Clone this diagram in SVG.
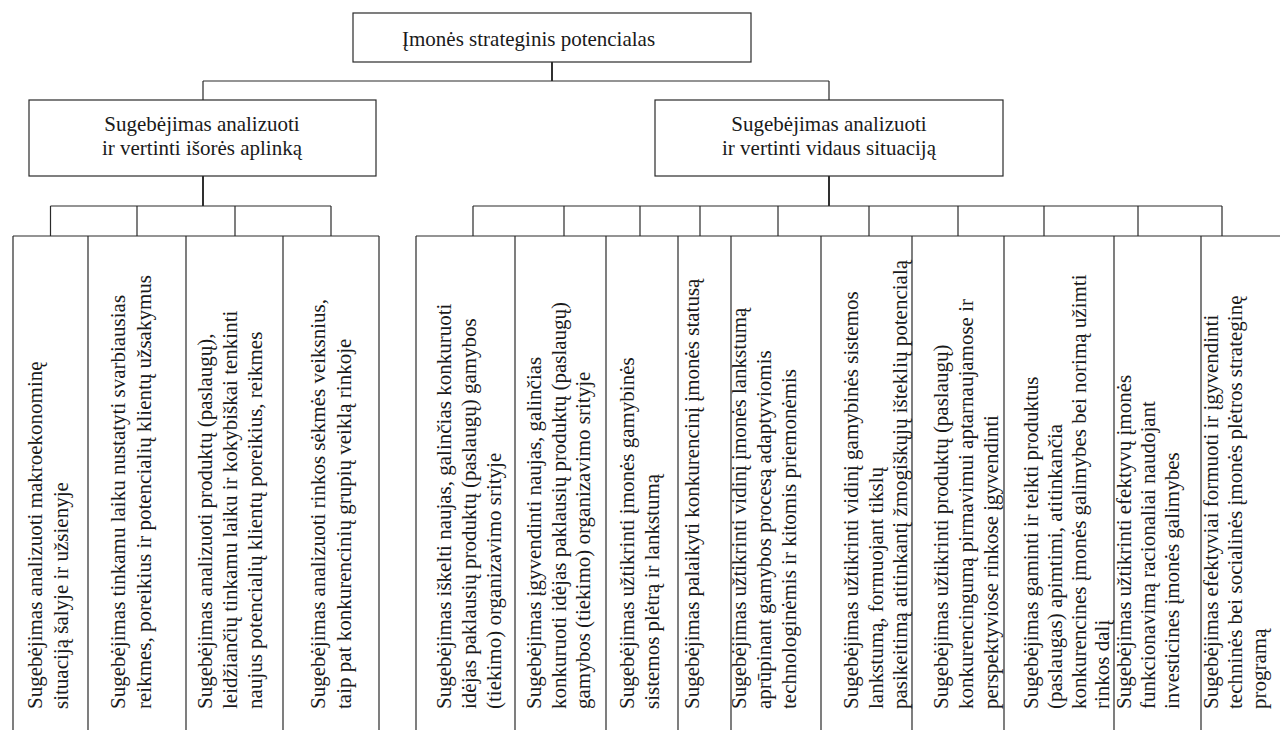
<svg xmlns="http://www.w3.org/2000/svg" width="1280" height="730" viewBox="0 0 1280 730">
<style>
.box{fill:#fff;stroke:#2a2a2a;stroke-width:1.2}
.ln{fill:none;stroke:#2a2a2a;stroke-width:1.2}
.thick{fill:none;stroke:#1a1a1a;stroke-width:1.8}
text{font-family:'Liberation Serif','DejaVu Serif',serif;font-size:21px;fill:#1a1a1a}
.c{text-anchor:middle}
</style>
<rect width="1280" height="730" fill="#fff"/>
<g id="connectors">
<path class="thick" d="M552,62V81"/>
<path class="ln" d="M203,81H829M203,81V100M829,81V100"/>
<path class="thick" d="M203,176V206M829,176V206"/>
<path class="ln" d="M50.5,206H331M50.5,206V236M137,206V236M235,206V236M331,206V236"/>
<path class="ln" d="M473,206H1222M473,206V236M564,206V236M640,206V236M700,206V236M778,206V236M869,206V236M958,206V236M1044,206V236M1138,206V236M1222,206V236"/>
<path class="ln" d="M13,236H379M13,236V730M88,236V730M186,236V730M283,236V730M379,236V730"/>
<path class="ln" d="M416,236H1280M416,236V730M515,236V730M606,236V730M678,236V730M731,236V730M821,236V730M912,236V730M1004,236V730M1114,236V730M1201,236V730"/>
</g>
<g font-family="Liberation Serif, DejaVu Serif, serif" font-size="21">
<g id="root">
<rect class="box" x="353" y="13" width="398" height="49"/>
<text x="402" y="46">Įmonės strateginis potencialas</text>
</g>
<g id="external">
<rect class="box" x="29" y="100" width="347" height="76"/>
<text class="c" x="202" y="131">Sugebėjimas analizuoti</text>
<text class="c" x="202" y="155">ir vertinti išorės aplinką</text>
</g>
<g id="internal">
<rect class="box" x="655" y="100" width="348" height="76"/>
<text class="c" x="829" y="131">Sugebėjimas analizuoti</text>
<text class="c" x="829" y="155">ir vertinti vidaus situaciją</text>
</g>
<g id="col1"><text transform="translate(0 709) rotate(-90)"><tspan x="0" y="42">Sugebėjimas analizuoti makroekonominę</tspan><tspan x="0" y="68">situaciją šalyje ir užsienyje</tspan></text></g>
<g id="col2"><text transform="translate(0 709) rotate(-90)"><tspan x="0" y="125">Sugebėjimas tinkamu laiku nustatyti svarbiausias</tspan><tspan x="0" y="151">reikmes, poreikius ir potencialių klientų užsakymus</tspan></text></g>
<g id="col3"><text transform="translate(0 709) rotate(-90)"><tspan x="0" y="212">Sugebėjimas analizuoti produktų (paslaugų),</tspan><tspan x="0" y="237">leidžiančių tinkamu laiku ir kokybiškai tenkinti</tspan><tspan x="0" y="262">naujus potencialių klientų poreikius, reikmes</tspan></text></g>
<g id="col4"><text transform="translate(0 709) rotate(-90)"><tspan x="0" y="325">Sugebėjimas analizuoti rinkos sėkmės veiksnius,</tspan><tspan x="0" y="351">taip pat konkurencinių grupių veiklą rinkoje</tspan></text></g>
<g id="col5"><text transform="translate(0 709) rotate(-90)"><tspan x="0" y="451">Sugebėjimas iškelti naujas, galinčias konkuruoti</tspan><tspan x="0" y="476">idėjas paklausių produktų (paslaugų) gamybos</tspan><tspan x="0" y="501">(tiekimo) organizavimo srityje</tspan></text></g>
<g id="col6"><text transform="translate(0 709) rotate(-90)"><tspan x="0" y="541">Sugebėjimas įgyvendinti naujas, galinčias</tspan><tspan x="0" y="566">konkuruoti idėjas paklausių produktų (paslaugų)</tspan><tspan x="0" y="590">gamybos (tiekimo) organizavimo srityje</tspan></text></g>
<g id="col7"><text transform="translate(0 709) rotate(-90)"><tspan x="0" y="634">Sugebėjimas užtikrinti įmonės gamybinės</tspan><tspan x="0" y="659">sistemos plėtrą ir lankstumą</tspan></text></g>
<g id="col8"><text transform="translate(0 709) rotate(-90)"><tspan x="0" y="699">Sugebėjimas palaikyti konkurencinį įmonės statusą</tspan></text></g>
<g id="col9"><text transform="translate(0 709) rotate(-90)"><tspan x="0" y="746">Sugebėjimas užtikrinti vidinį įmonės lankstumą</tspan><tspan x="0" y="771">aprūpinant gamybos procesą adaptyviomis</tspan><tspan x="0" y="796">technologinėmis ir kitomis priemonėmis</tspan></text></g>
<g id="col10"><text transform="translate(0 709) rotate(-90)"><tspan x="0" y="858">Sugebėjimas užtikrinti vidinį gamybinės sistemos</tspan><tspan x="0" y="883">lankstumą, formuojant tikslų</tspan><tspan x="0" y="907">pasikeitimą atitinkantį žmogiškųjų išteklių potencialą</tspan></text></g>
<g id="col11"><text transform="translate(0 709) rotate(-90)"><tspan x="0" y="948">Sugebėjimas užtikrinti produktų (paslaugų)</tspan><tspan x="0" y="973">konkurencingumą pirmavimui aptarnaujamose ir</tspan><tspan x="0" y="998">perspektyviose rinkose įgyvendinti</tspan></text></g>
<g id="col12"><text transform="translate(0 709) rotate(-90)"><tspan x="0" y="1038">Sugebėjimas gaminti ir teikti produktus</tspan><tspan x="0" y="1062">(paslaugas) apimtimi, atitinkančia</tspan><tspan x="0" y="1086">konkurencines įmonės galimybes bei norimą užimti</tspan><tspan x="0" y="1109">rinkos dalį</tspan></text></g>
<g id="col13"><text transform="translate(0 709) rotate(-90)"><tspan x="0" y="1131">Sugebėjimas užtikrinti efektyvų įmonės</tspan><tspan x="0" y="1155">funkcionavimą racionaliai naudojant</tspan><tspan x="0" y="1179">investicines įmonės galimybes</tspan></text></g>
<g id="col14"><text transform="translate(0 709) rotate(-90)"><tspan x="0" y="1218">Sugebėjimas efektyviai formuoti ir įgyvendinti</tspan><tspan x="0" y="1242">techninės bei socialinės įmonės plėtros strateginę</tspan><tspan x="0" y="1266">programą</tspan></text></g>
</g>
</svg>
